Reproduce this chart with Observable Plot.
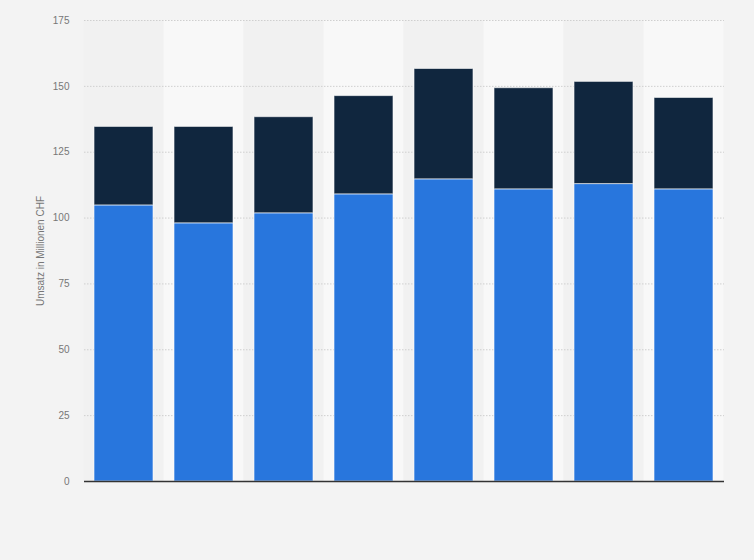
<!DOCTYPE html>
<html>
<head>
<meta charset="utf-8">
<script src="https://cdn.jsdelivr.net/npm/d3@7"></script>
<script src="https://cdn.jsdelivr.net/npm/@observablehq/plot@0.6"></script>
<style>
  html, body { margin: 0; padding: 0; background: #f3f3f3; }
  #chart { width: 754px; height: 560px; }
</style>
</head>
<body>
<div id="chart"></div>
<script>
const categories = ["2012", "2013", "2014", "2015", "2016", "2017", "2018", "2019"];
const seriesNames = ["Segment A", "Segment B"];
const valuesA = [104.8, 98.0, 101.8, 109.0, 114.7, 110.9, 112.9, 110.9];
const valuesB = [29.8, 36.6, 36.5, 37.3, 41.9, 38.4, 38.8, 34.7];
const yTicks = [0, 25, 50, 75, 100, 125, 150, 175];
const yLabel = "Umsatz in Millionen CHF";

const rows = [];
categories.forEach((c, i) => {
  rows.push({cat: c, series: seriesNames[0], value: valuesA[i]});
  rows.push({cat: c, series: seriesNames[1], value: valuesB[i]});
});
const bands = categories.map((c, i) => ({cat: c, shade: i % 2 === 0 ? "odd" : "even", top: yTicks[yTicks.length - 1]}));

const chart = Plot.plot({
  width: 754,
  height: 560,
  marginLeft: 84,
  marginRight: 30,
  marginTop: 20,
  marginBottom: 79,
  style: {background: "#f3f3f3", fontFamily: "Liberation Sans, Arial, sans-serif", fontSize: "10px", color: "#777"},
  x: {domain: categories, paddingInner: 0.26, paddingOuter: 0.13, axis: null},
  y: {domain: [0, 175], ticks: yTicks, label: yLabel},
  color: {domain: seriesNames, range: ["#2876dd", "#10263e"]},
  marks: [
    Plot.barY(bands, {x: "cat", y: "top", fill: d => d.shade === "odd" ? "#f1f1f1" : "#f8f8f8", insetLeft: -10.4, insetRight: -10.4}),
    Plot.gridY(yTicks.filter(t => t > 0), {stroke: "#cfcfcf", strokeOpacity: 1, strokeDasharray: "1.5,1.5", strokeWidth: 1}),
    Plot.axisY({ticks: yTicks, tickSize: 0, tickPadding: 15, fill: "#777", fontSize: 10, label: yLabel, labelAnchor: "center", labelArrow: "none", labelOffset: 48}),
    Plot.barY(rows, {x: "cat", y: "value", fill: "series", stroke: "#ffffff", strokeOpacity: 0.6, strokeWidth: 1}),
    Plot.ruleY([0], {stroke: "#333", strokeWidth: 1.5})
  ]
});
document.getElementById("chart").appendChild(chart);
</script>
</body>
</html>
